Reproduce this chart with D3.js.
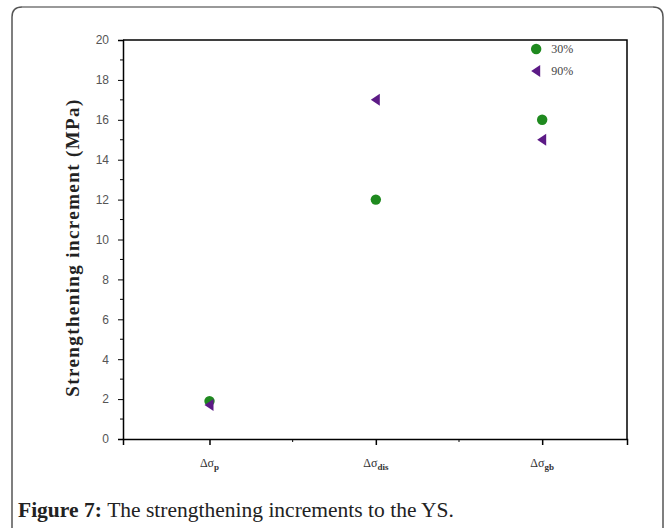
<!DOCTYPE html>
<html>
<head>
<meta charset="utf-8">
<script src="https://cdn.jsdelivr.net/npm/d3@7"></script>
<style>
  body { margin: 0; background: #fff; }
</style>
</head>
<body>
<div id="chart"></div>
<script>
// Data
const categories = ["p", "dis", "gb"];
const series30 = [1.9, 12, 16];
const series90 = [1.7, 17, 15];
const seriesNames = ["30%", "90%"];
const yTicks = [0, 2, 4, 6, 8, 10, 12, 14, 16, 18, 20];

const W = 670, H = 528;
const margin = { top: 40, right: 43, bottom: 89, left: 123 };
const width = W - margin.left - margin.right;
const height = H - margin.top - margin.bottom;

const svg = d3.select("#chart")
              .append("svg")
                .attr("width", W)
                .attr("height", H);

// card border
svg.append("path")
   .attr("d", "M12,528 L12,17 Q12,7 22,7 L653,7 Q663,7 663,17 L663,528")
   .attr("fill", "none")
   .attr("stroke", "#555")
   .attr("stroke-width", 1.5);
svg.append("line")
   .attr("x1", 22).attr("x2", 653)
   .attr("y1", 7).attr("y2", 7)
   .attr("stroke", "#999")
   .attr("stroke-width", 2);

const g = svg.append("g")
             .attr("transform", `translate(${margin.left},${margin.top})`);

const xScale = d3.scaleLinear().domain([0.48, 3.51]).range([0, width]);
const yScale = d3.scaleLinear().domain([0, 20]).range([height, 0]);

// frame top and right
g.append("path")
 .attr("d", `M0,0 H${width} V${height}`)
 .attr("fill", "none")
 .attr("stroke", "#000")
 .attr("stroke-width", 1.5);

// Y axis
const yAxis = d3.axisLeft(yScale).tickValues(yTicks).tickSize(5).tickPadding(9);
const yg = g.append("g").attr("class", "yAxis").call(yAxis);
yg.select(".domain").attr("stroke-width", 1.5);
yg.selectAll("text")
  .style("font-family", "'Liberation Sans', Arial, sans-serif")
  .style("font-size", "12px")
  .attr("fill", "#555");
// minor y ticks
g.append("g").selectAll("line")
 .data(d3.range(1, 20, 2))
 .join("line")
   .attr("x1", -3).attr("x2", 0)
   .attr("y1", d => yScale(d)).attr("y2", d => yScale(d))
   .attr("stroke", "#000");

// X axis
const xAxis = d3.axisBottom(xScale).tickValues([1, 2, 3]).tickSize(6).tickFormat("");
const xg = g.append("g")
            .attr("class", "xAxis")
            .attr("transform", `translate(0,${height})`)
            .call(xAxis);
xg.select(".domain").attr("stroke-width", 1.5);
xg.selectAll(".tick line").attr("stroke-width", 1.5);
g.append("g").selectAll("line")
 .data([1.5, 2.5])
 .join("line")
   .attr("x1", d => xScale(d)).attr("x2", d => xScale(d))
   .attr("y1", height).attr("y2", height + 3)
   .attr("stroke", "#000");

// category labels
const xl = g.append("g").selectAll("text")
            .data(categories)
            .join("text")
              .attr("x", (d, i) => xScale(i + 1))
              .attr("y", height + 28)
              .attr("text-anchor", "middle")
              .style("font-family", "'Liberation Serif', serif")
              .style("font-size", "12px")
              .attr("fill", "#333");
xl.append("tspan").text("Δσ");
xl.append("tspan")
  .attr("dy", 3)
  .style("font-size", "9px")
  .style("font-weight", "bold")
  .text(d => d);

// Y title
g.append("text")
 .attr("transform", "rotate(-90)")
 .attr("x", -height / 2 - 8)
 .attr("y", -44)
 .attr("text-anchor", "middle")
 .style("font-family", "'Liberation Serif', serif")
 .style("font-size", "19px")
 .style("font-weight", "bold")
 .style("letter-spacing", "1.4px")
 .attr("fill", "#222")
 .text("Strengthening increment  (MPa)");

// markers
const green = "#1f8a1f";
const purple = "#5c1a86";
const circleSym = d3.symbol().type(d3.symbolCircle).size(85);
const triPath = "M-5,0 L4,-6 L4,6 Z";

g.append("g").selectAll("path")
 .data(series30)
 .join("path")
   .attr("d", circleSym)
   .attr("transform", (d, i) => `translate(${xScale(i + 1)},${yScale(d)})`)
   .attr("fill", green);

g.append("g").selectAll("path")
 .data(series90)
 .join("path")
   .attr("d", triPath)
   .attr("transform", (d, i) => `translate(${xScale(i + 1)},${yScale(d)})`)
   .attr("fill", purple);

// legend
const legend = g.append("g").attr("transform", `translate(${xScale(3) - 6},9)`);
legend.append("path").attr("d", circleSym).attr("fill", green);
legend.append("path").attr("d", triPath).attr("transform", "translate(0,22)").attr("fill", purple);
legend.selectAll("text")
      .data(seriesNames)
      .join("text")
        .attr("x", 15)
        .attr("y", (d, i) => i * 22 + 4)
        .style("font-family", "'Liberation Serif', serif")
        .style("font-size", "12px")
        .attr("fill", "#444")
        .text(d => d);

// caption
const cap = svg.append("text")
               .attr("x", 18)
               .attr("y", 517)
               .style("font-family", "'Liberation Serif', serif")
               .style("font-size", "21.5px")
               .attr("fill", "#222");
cap.append("tspan").style("font-weight", "bold").text("Figure 7: ");
cap.append("tspan").text("The strengthening increments to the YS.");
</script>
</body>
</html>
